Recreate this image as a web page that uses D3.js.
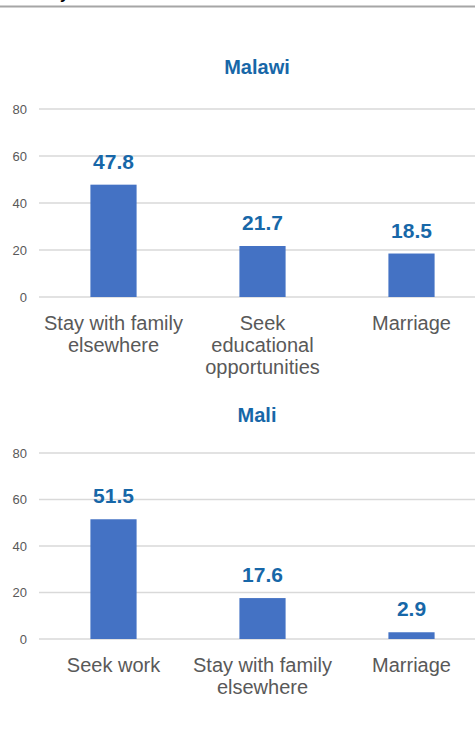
<!DOCTYPE html>
<html>
<head>
<meta charset="utf-8">
<script src="https://cdn.jsdelivr.net/npm/d3@7"></script>
<style>
  html, body { margin: 0; padding: 0; background: #fff; }
  svg { display: block; }
</style>
</head>
<body>
<svg id="chart" width="475" height="756"></svg>
<script>
// Reasons for moving, by country (%)
const malawiCategories = [["Stay with family", "elsewhere"], ["Seek", "educational", "opportunities"], ["Marriage"]];
const malawiValues = [47.8, 21.7, 18.5];
const maliCategories = [["Seek work"], ["Stay with family", "elsewhere"], ["Marriage"]];
const maliValues = [51.5, 17.6, 2.9];
const yTicks = [0, 20, 40, 60, 80];

const svg = d3.select("#chart");
const font = "'Liberation Sans', Arial, sans-serif";
const barColor = "#4472c4";
const labelBlue = "#1767a8";

// heading above the panels, mostly above the top edge
svg.append("text")
  .attr("x", 60).attr("y", -1)
  .attr("font-family", font).attr("font-weight", "bold").attr("font-size", 16)
  .attr("fill", "#000").text("y");

// top rule
svg.append("line")
  .attr("x1", 0).attr("x2", 475).attr("y1", 6.5).attr("y2", 6.5)
  .attr("stroke", "#a6a6a6").attr("stroke-width", 2);

function panel(title, titleY, cats, vals, y0, y80) {
  const g = svg.append("g");
  const x = d3.scaleBand().domain(d3.range(cats.length)).range([39, 486]).paddingInner(0.69).paddingOuter(0.345);
  const y = d3.scaleLinear().domain([0, 80]).range([y0, y80]);

  g.append("text")
    .attr("x", 257).attr("y", titleY)
    .attr("text-anchor", "middle")
    .attr("font-family", font).attr("font-weight", "bold").attr("font-size", 20)
    .attr("fill", labelBlue).text(title);

  // gridlines
  g.selectAll(".grid").data(yTicks).join("line")
    .attr("x1", 39).attr("x2", 475)
    .attr("y1", d => y(d)).attr("y2", d => y(d))
    .attr("stroke", "#d9d9d9").attr("stroke-width", 1.5);

  const axis = d3.axisLeft(y).tickValues(yTicks).tickSize(0).tickPadding(0);
  const ax = g.append("g").attr("transform", "translate(27,0)").call(axis);
  ax.select(".domain").remove();
  ax.selectAll("text").attr("font-family", font).attr("font-size", 13).attr("fill", "#595959");

  g.selectAll(".bar").data(vals).join("rect")
    .attr("x", (d, i) => x(i)).attr("width", x.bandwidth())
    .attr("y", d => y(d)).attr("height", d => y(0) - y(d))
    .attr("fill", barColor);

  g.selectAll(".val").data(vals).join("text")
    .attr("x", (d, i) => x(i) + x.bandwidth() / 2)
    .attr("y", d => y(d) - 16)
    .attr("text-anchor", "middle")
    .attr("font-family", font).attr("font-weight", "bold").attr("font-size", 21)
    .attr("fill", labelBlue)
    .text(d => d.toFixed(1));

  const cl = g.selectAll(".cat").data(cats).join("text")
    .attr("text-anchor", "middle")
    .attr("font-family", font).attr("font-size", 20)
    .attr("fill", "#595959");
  cl.each(function (lines, i) {
    d3.select(this).selectAll("tspan").data(lines).join("tspan")
      .attr("x", x(i) + x.bandwidth() / 2)
      .attr("y", (d, j) => y0 + 33 + j * 22)
      .text(d => d);
  });
}

panel("Malawi", 74, malawiCategories, malawiValues, 297, 109);
panel("Mali", 422, maliCategories, maliValues, 639, 453);
</script>
</body>
</html>
